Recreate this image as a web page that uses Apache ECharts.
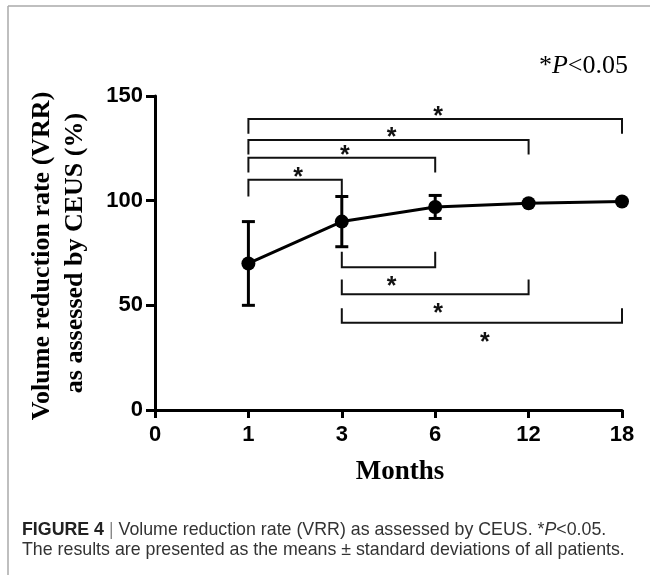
<!DOCTYPE html>
<html>
<head>
<meta charset="utf-8">
<script src="https://cdn.jsdelivr.net/npm/echarts@6/dist/echarts.min.js"></script>
<style>
html,body{margin:0;padding:0;background:#fff;}
#chart{width:650px;height:575px;}
</style>
</head>
<body>
<div id="chart"></div>
<script>
// months after treatment (category axis)
var months = ['0', '1', '3', '6', '12', '18'];
// VRR mean and SD (%)
var meanVRR = ['-', 70, 90, 97, 98.8, 99.6];
var sdVRR = [0, 20, 12, 5.5, 0, 0];
var yTicks = [0, 50, 100, 150];

// significance brackets: pairs, bar level and leg end (values in %)
var topPairs = [['1', '18'], ['1', '12'], ['1', '6'], ['1', '3']];
var topLevels = [139, 129, 120.5, 110];
var topLegEnds = [132, 122, 113.5, 102];
var bottomPairs = [['3', '6'], ['3', '12'], ['3', '18']];
var bottomLevels = [68.2, 55.3, 41.7];
var bottomLegEnds = [75.6, 62.4, 48.6];

var sans = '"Liberation Sans", Arial, sans-serif';
var serif = '"Liberation Serif", "Times New Roman", serif';

var errData = [];
for (var i = 0; i < months.length; i++) {
	if (sdVRR[i] > 0) errData.push([i, meanVRR[i], sdVRR[i]]);
}

var bracketData = [];
for (var i = 0; i < topPairs.length; i++) {
	bracketData.push([months.indexOf(topPairs[i][0]), topLevels[i], months.indexOf(topPairs[i][1]), topLegEnds[i], 1]);
}
for (var i = 0; i < bottomPairs.length; i++) {
	bracketData.push([months.indexOf(bottomPairs[i][0]), bottomLevels[i], months.indexOf(bottomPairs[i][1]), bottomLegEnds[i], -1]);
}

var myChart = echarts.init(document.getElementById('chart'));

var option = {
	backgroundColor: '#fff',
	animation: false,
	grid: {left: 155, right: 28, top: 96, bottom: 165},
	xAxis: {
		type: 'category',
		data: months,
		boundaryGap: false,
		axisLine: {lineStyle: {color: '#000', width: 3}},
		axisTick: {show: true, length: 8, lineStyle: {color: '#000', width: 3}},
		axisLabel: {margin: 14, color: '#000', fontSize: 22, fontWeight: 'bold', fontFamily: sans},
		splitLine: {show: false}
	},
	yAxis: {
		type: 'value',
		min: yTicks[0],
		max: yTicks[yTicks.length - 1],
		interval: yTicks[1] - yTicks[0],
		axisLine: {show: true, lineStyle: {color: '#000', width: 3}},
		axisTick: {show: true, length: 9, lineStyle: {color: '#000', width: 3}},
		axisLabel: {margin: 12, color: '#000', fontSize: 22, fontWeight: 'bold', fontFamily: sans},
		splitLine: {show: false}
	},
	series: [
		{
			// error bars
			type: 'custom',
			data: errData,
			encode: {x: 0, y: 1},
			z: 3,
			renderItem: function (params, api) {
				var x = api.value(0), m = api.value(1), s = api.value(2);
				var top = api.coord([x, m + s]);
				var bot = api.coord([x, m - s]);
				var w = 6.5;
				var st = {stroke: '#000', lineWidth: 3};
				return {
					type: 'group',
					children: [
						{type: 'line', shape: {x1: top[0], y1: top[1], x2: bot[0], y2: bot[1]}, style: st},
						{type: 'line', shape: {x1: top[0] - w, y1: top[1], x2: top[0] + w, y2: top[1]}, style: st},
						{type: 'line', shape: {x1: bot[0] - w, y1: bot[1], x2: bot[0] + w, y2: bot[1]}, style: st}
					]
				};
			}
		},
		{
			type: 'line',
			data: meanVRR,
			symbol: 'circle',
			symbolSize: 14,
			z: 4,
			lineStyle: {color: '#000', width: 3},
			itemStyle: {color: '#000'}
		},
		{
			// brackets with stars
			type: 'custom',
			data: bracketData,
			encode: {x: 0, y: 1},
			z: 2,
			renderItem: function (params, api) {
				var a = api.value(0), lvl = api.value(1), b = api.value(2), leg = api.value(3), dir = api.value(4);
				var p1 = api.coord([a, lvl]);
				var p2 = api.coord([b, lvl]);
				var l1 = api.coord([a, leg]);
				var mid = (p1[0] + p2[0]) / 2;
				// star sits above top brackets, below bottom ones
				var starY = dir > 0 ? p1[1] - 8 : p1[1] + 14;
				return {
					type: 'group',
					children: [
						{
							type: 'polyline',
							shape: {points: [[p1[0], l1[1]], p1, p2, [p2[0], l1[1]]]},
							style: {stroke: '#111', lineWidth: 2, fill: null}
						},
						{
							type: 'text',
							style: {
								text: '*', x: mid + 3, y: starY + 6,
								align: 'center', verticalAlign: 'middle',
								font: 'bold 25px ' + sans, fill: '#111'
							}
						}
					]
				};
			}
		}
	],
	graphic: [
		{type: 'line', shape: {x1: 8, y1: 6, x2: 650, y2: 6}, style: {stroke: '#aaa', lineWidth: 1.5}},
		{type: 'line', shape: {x1: 8, y1: 6, x2: 8, y2: 575}, style: {stroke: '#aaa', lineWidth: 1.5}},
		{
			type: 'text', x: 42, y: 256, rotation: Math.PI / 2,
			style: {text: 'Volume reduction rate (VRR)', font: 'bold 26px ' + serif, fill: '#000', align: 'center', verticalAlign: 'middle'}
		},
		{
			type: 'text', x: 75, y: 253, rotation: Math.PI / 2,
			style: {text: 'as assessed by CEUS (%)', font: 'bold 26px ' + serif, fill: '#000', align: 'center', verticalAlign: 'middle'}
		},
		{
			type: 'text', x: 400, y: 472,
			style: {text: 'Months', font: 'bold 27px ' + serif, fill: '#000', align: 'center', verticalAlign: 'middle'}
		},
		{
			type: 'text', x: 628, y: 66,
			style: {
				text: '*{i|P}<0.05', font: '26px ' + serif, fill: '#000', align: 'right', verticalAlign: 'middle',
				rich: {i: {font: 'italic 26px ' + serif, fill: '#000'}}
			}
		},
		{
			type: 'text', x: 22, y: 530,
			style: {
				text: '{b|FIGURE 4} {s||} Volume reduction rate (VRR) as assessed by CEUS. *{i|P}<0.05.',
				font: '17.8px ' + sans, fill: '#333', verticalAlign: 'middle',
				rich: {
					b: {font: 'bold 17.8px ' + sans, fill: '#222'},
					s: {font: '17.8px ' + sans, fill: '#888'},
					i: {font: 'italic 17.8px ' + sans, fill: '#333'}
				}
			}
		},
		{
			type: 'text', x: 22, y: 550,
			style: {text: 'The results are presented as the means \u00b1 standard deviations of all patients.', font: '17.8px ' + sans, fill: '#333', verticalAlign: 'middle'}
		}
	]
};
myChart.setOption(option);
</script>
</body>
</html>
